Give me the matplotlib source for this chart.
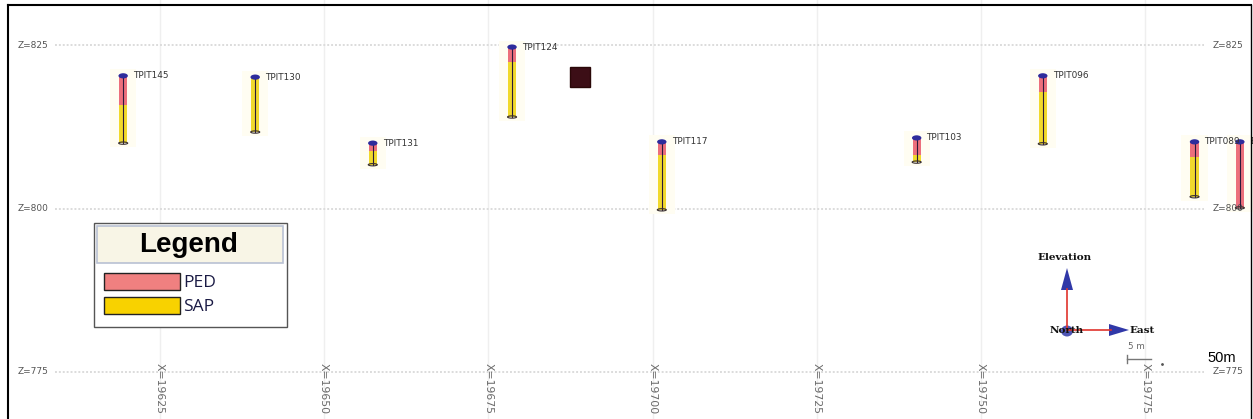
import numpy as np
import matplotlib.pyplot as plt
from matplotlib.patches import Rectangle, Ellipse, Polygon

W, H = 1253, 419

# test pits along the section: easting, collar RL, base of PED, end of hole
pits = ['TPIT145', 'TPIT130', 'TPIT131', 'TPIT124', 'TPIT117',
        'TPIT103', 'TPIT096', 'TPIT089', 'E']
east = [19619.4, 19639.5, 19657.4, 19678.6, 19701.4,
        19740.2, 19759.4, 19782.5, 19789.4]
collar = [820.3, 820.1, 810.0, 824.7, 810.2, 810.8, 820.3, 810.2, 810.2]
ped_base = [815.8, 820.1, 808.8, 822.4, 808.2, 808.2, 817.8, 807.9, 800.1]
eoh = [810.0, 811.7, 806.7, 814.0, 799.8, 807.1, 809.9, 801.8, 800.1]

# section grid
z_levels = [825, 800, 775]
x_grid = [19625, 19650, 19675, 19700, 19725, 19750, 19775]

# survey marker block (easting min/max, RL min/max)
block_e = [19687.4, 19690.4]
block_z = [818.6, 821.6]

PED_C = '#ec6f7c'
SAP_C = '#f1d92c'
CAP_C = '#2e2c9c'

fig = plt.figure(figsize=(W / 100, H / 100), dpi=100)
ax = fig.add_axes([0, 0, 1, 1])
ax.set_xlim(19600.65, 19791.4)
ax.set_ylim(767.8, 831.9)
ax.axis('off')


def fx(px):
    return px / W


def fy(py):
    return 1 - py / H


# grid lines and labels
for x in x_grid:
    ax.axvline(x, color='#efefef', lw=1, zorder=0)
    ax.text(x, 776.3, f'X={x}', rotation=270, ha='center', va='top',
            fontsize=7.8, color='#6a6a6a')
for z in z_levels:
    ax.plot([19609, 19784], [z, z], color='#dcdcdc', lw=1.4,
            ls=(0, (1, 1)), zorder=0)
    ax.text(19603.3, z, f'Z={z}', ha='left', va='center', fontsize=6.5,
            color='#555555')
    ax.text(19785.2, z, f'Z={z}', ha='left', va='center', fontsize=6.5,
            color='#555555')

# test pit columns
w = 1.25
for name, e, top, ped, bot in zip(pits, east, collar, ped_base, eoh):
    ax.add_patch(Rectangle((e - w * 1.6, bot - 0.6), w * 3.2, top - bot + 1.6,
                           facecolor='#fffdf2', edgecolor='none', zorder=1))
    if bot < ped:
        ax.add_patch(Rectangle((e - w / 2, bot), w, ped - bot,
                               facecolor=SAP_C, edgecolor='none', zorder=2))
    if ped < top:
        ax.add_patch(Rectangle((e - w / 2, ped), w, top - ped,
                               facecolor=PED_C, edgecolor='none', zorder=2))
    ax.plot([e, e], [bot, top], color='#2a1a3a', lw=0.8, zorder=3)
    ax.add_patch(Ellipse((e, bot), w * 1.1, 0.35, facecolor='none',
                         edgecolor='#3a3030', lw=0.8, zorder=3))
    ax.add_patch(Ellipse((e, top), w * 1.15, 0.8, facecolor=CAP_C,
                         edgecolor='none', zorder=4))
    ax.text(e + 1.5, top, name, ha='left', va='center', fontsize=6.4,
            color='#333333', zorder=5)

ax.add_patch(Rectangle((block_e[0], block_z[0]), block_e[1] - block_e[0],
                       block_z[1] - block_z[0], facecolor='#3c0e16',
                       edgecolor='#2a0808', lw=1, zorder=3))

# frame
fig.add_artist(plt.Line2D([fx(8), fx(8)], [fy(5), 0], color='black', lw=1.5))
fig.add_artist(plt.Line2D([fx(8), fx(1251)], [fy(5), fy(5)], color='black', lw=1.5))
fig.add_artist(plt.Line2D([fx(1251), fx(1251)], [fy(5), 0], color='black', lw=1.0))

# legend panel
tf = fig.transFigure
fig.add_artist(Rectangle((fx(94), fy(327)), fx(287) - fx(94), fy(223) - fy(327),
                         transform=tf, facecolor='white', edgecolor='#555555', lw=1))
fig.add_artist(Rectangle((fx(97), fy(263)), fx(283) - fx(97), fy(226) - fy(263),
                         transform=tf, facecolor='#f8f5e6', edgecolor='#b9c1d3', lw=1.2))
fig.text(fx(189), fy(245), 'Legend', ha='center', va='center', fontsize=20,
         fontweight='bold', family='Liberation Sans', color='black')
for label, col, top_py in [('PED', '#f08080', 273), ('SAP', '#f8d200', 297)]:
    fig.add_artist(Rectangle((fx(104), fy(top_py + 17)), fx(180) - fx(104),
                             fy(top_py) - fy(top_py + 17), transform=tf,
                             facecolor=col, edgecolor='#222222', lw=1))
    fig.text(fx(183), fy(top_py + 10), label, ha='left', va='center',
             fontsize=12.5, family='Open Sans', color='#1a1a44')

# orientation triad
fig.add_artist(plt.Line2D([fx(1067), fx(1067)], [fy(330), fy(289)], color='#e0342c', lw=1.2))
fig.add_artist(plt.Line2D([fx(1067), fx(1111)], [fy(330), fy(330)], color='#e0342c', lw=1.2))
fig.add_artist(Polygon([(fx(1067), fy(268)), (fx(1061), fy(290)), (fx(1073), fy(290))],
                       closed=True, transform=tf, facecolor='#3038a8', edgecolor='none'))
fig.add_artist(Polygon([(fx(1129), fy(330)), (fx(1109), fy(324)), (fx(1109), fy(336))],
                       closed=True, transform=tf, facecolor='#3038a8', edgecolor='none'))
fig.text(fx(1065), fy(258), 'Elevation', ha='center', va='center', fontsize=7.5,
         fontweight='bold', family='DejaVu Serif', color='#111111')
fig.text(fx(1067), fy(330), 'North', ha='center', va='center', fontsize=7.5,
         fontweight='bold', family='DejaVu Serif', color='#111111')
fig.add_artist(Ellipse((fx(1067), fy(331)), 12 / W, 11 / H, transform=tf,
                       facecolor='#3038a8', edgecolor='none', alpha=0.85))
fig.text(fx(1129), fy(330), 'East', ha='left', va='center', fontsize=7.5,
         fontweight='bold', family='DejaVu Serif', color='#111111')

# scale bar
fig.text(fx(1128), fy(346), '5 m', ha='left', va='center', fontsize=6.3, color='#666666')
fig.add_artist(plt.Line2D([fx(1127), fx(1151)], [fy(359), fy(359)], color='#777777', lw=1))
fig.add_artist(plt.Line2D([fx(1127), fx(1127)], [fy(355), fy(363)], color='#777777', lw=1))
fig.add_artist(plt.Line2D([fx(1162)], [fy(364)], marker='.', ms=2, color='#555555'))
fig.text(fx(1207), fy(358), '50m', ha='left', va='center', fontsize=10.5,
         family='Liberation Sans', color='black')

fig.savefig('out.png', dpi=100)
